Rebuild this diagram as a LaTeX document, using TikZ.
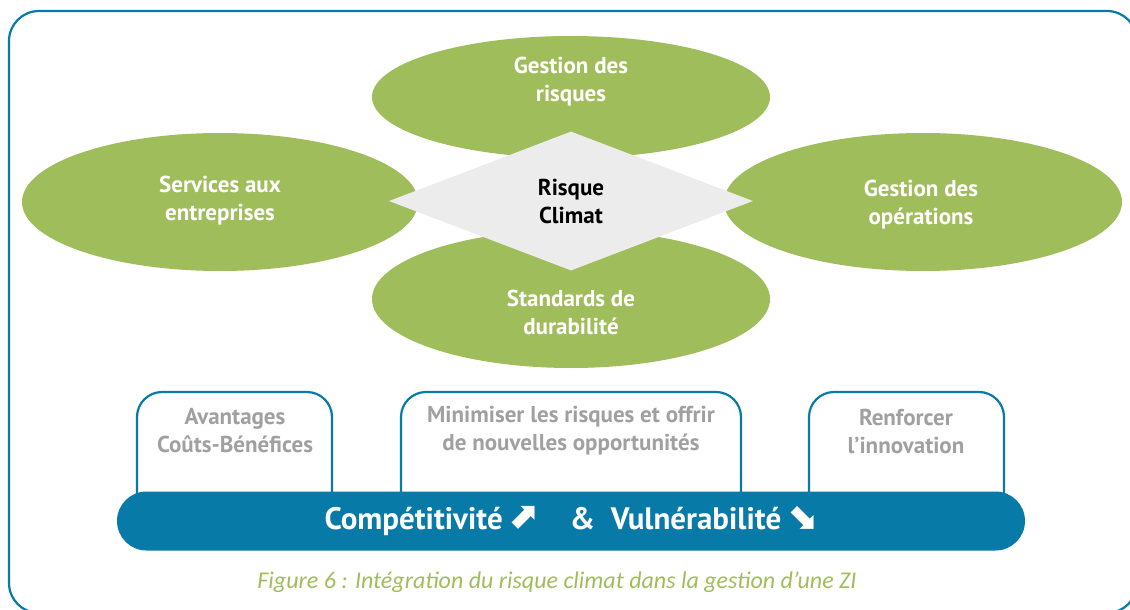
\documentclass[tikz,border=0pt]{standalone}
\usepackage{fontspec}
\setmainfont{PT Sans}
\newfontfamily\capfont{Carlito}
\newfontfamily\arrowfont{DejaVu Sans}
\usetikzlibrary{shapes.geometric}
\definecolor{zigreen}{RGB}{160,189,91}
\definecolor{ziblue}{RGB}{7,122,167}
\definecolor{zigray}{RGB}{235,236,235}
\definecolor{zitext}{RGB}{160,160,160}

\begin{document}
\begin{tikzpicture}[x=1pt, y=-1pt,
  petal/.style={ellipse, fill=zigreen, inner sep=0pt},
  petaltext/.style={text=white, font=\fontsize{23}{28}\selectfont\bfseries, align=center},
  openbox/.style={draw=ziblue, line width=2.2pt, rounded corners=25pt},
  boxtext/.style={text=zitext, font=\fontsize{23}{28}\selectfont\bfseries, align=center}]
\useasboundingbox (0,0) rectangle (1130,610);
\clip (0,0) rectangle (1130,610);
\draw[ziblue, line width=2.2pt, rounded corners=30pt] (9,11) rectangle (1137,613);
% four domains
\node[petal, minimum width=398pt, minimum height=122pt] (risques) at (571,97) {};
\node[petal, minimum width=396pt, minimum height=138pt] (services) at (220,202) {};
\node[petal, minimum width=398pt, minimum height=138pt] (operations) at (923,202) {};
\node[petal, minimum width=398pt, minimum height=138pt] (standards) at (571,299) {};
\node[diamond, fill=zigray, inner sep=0pt, minimum width=364pt, minimum height=139pt,
  font=\fontsize{23}{28}\selectfont\bfseries, align=center] (climat) at (571,201) {Risque\\Climat};
\path
(571,82) node[petaltext] (risquesTxt) {Gestion des\\risques};
\path
(220,201) node[petaltext] (servicesTxt) {Services aux\\entreprises};
\path
(921,205) node[petaltext] (operationsTxt) {Gestion des\\opérations};
\path
(571,312) node[petaltext] (standardsTxt) {Standards de\\durabilité};
% boxes on the bar
\draw[openbox] (137,496) |- (235,392) -| (332,496);
\draw[openbox] (401,496) |- (571,392) -| (741,496);
\draw[openbox] (809,496) |- (906,392) -| (1004,496);
\path
(235,431) node[boxtext] (couts) {Avantages\\Coûts-Bénéfices};
\path
(571,431) node[boxtext] (opportunites) {Minimiser les risques et offrir\\de nouvelles opportunités};
\path
(906,431) node[boxtext] (innovation) {Renforcer\\l’innovation};
\node[fill=ziblue, rounded corners=29.5pt, minimum width=908pt, minimum height=59pt,
  text=white, font=\fontsize{31}{36}\selectfont\bfseries] (bar) at (571,521)
  {Compétitivité\,{\arrowfont\bfseries\fontsize{37}{37}\selectfont\raisebox{1pt}{⬈}}\quad\&\ \ Vulnérabilité\,{\arrowfont\bfseries\fontsize{37}{37}\selectfont\raisebox{1pt}{⬊}}};
\path
(557,582) node[text=zigreen, font=\capfont\itshape\fontsize{24}{28}\selectfont] (caption)
  {Figure 6 : Intégration du risque climat dans la gestion d’une ZI};
\end{tikzpicture}
\end{document}
